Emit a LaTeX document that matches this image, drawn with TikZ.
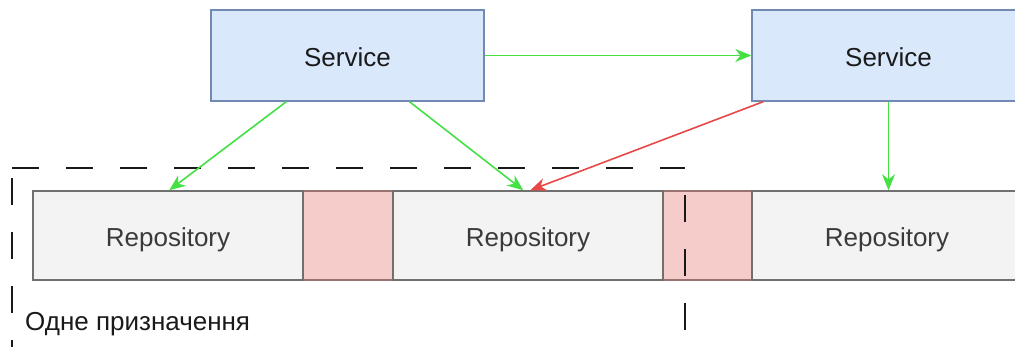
\documentclass[tikz,border=0pt]{standalone}
\usepackage{fontspec}
\setmainfont{Liberation Sans}
\usetikzlibrary{arrows.meta,calc}

\definecolor{svcfill}{HTML}{DAE8FC}
\definecolor{svcline}{HTML}{7189B3}
\definecolor{repofill}{HTML}{F3F3F3}
\definecolor{repoline}{HTML}{707070}
\definecolor{gapfill}{HTML}{F6CCCB}
\definecolor{gapline}{HTML}{9A7272}
\definecolor{okarrow}{HTML}{44E044}
\definecolor{badarrow}{HTML}{E84848}
\definecolor{svctext}{HTML}{1A1A1A}
\definecolor{repotext}{HTML}{3A3A3A}

\tikzset{
  label font/.style={font=\fontsize{26}{30}\selectfont},
  boxtext/.style={label font, text height=22.6pt, text depth=0pt},
  svc/.style={draw=svcline, fill=svcfill, line width=1.3pt, inner sep=0pt,
    minimum width=273pt, minimum height=91pt, boxtext, text=svctext},
  repo/.style={draw=repoline, fill=repofill, line width=1.5pt, inner sep=0pt,
    minimum width=270pt, minimum height=89pt, boxtext, text=repotext},
  gapbox/.style={draw=gapline, fill=gapfill, line width=1.5pt, inner sep=0pt,
    minimum width=90pt, minimum height=89pt},
  conn/.style={line width=1.6pt, -{Stealth[length=16pt,width=13pt,inset=5pt]}},
  ok/.style={conn, draw=okarrow, fill=okarrow},
  bad/.style={conn, draw=badarrow, fill=badarrow},
  grp/.style={line width=2pt, draw=black!90, dash pattern=on 27pt off 27pt},
}

\begin{document}
\begin{tikzpicture}[x=1pt,y=-1pt]
\path[use as bounding box, clip] (0,0) rectangle (1015,347);

% services
\node[svc] (s1) at (347.5,55.5) {Service};
\node[svc] (s2) at (888.5,55.5) {Service};

% repository row with the shared pieces between them
\node[gapbox] (g1) at (348,235.5) {};
\node[gapbox] (g2) at (707.5,235.5) {};
\node[repo] (r1) at (168,235.5) {Repository};
\node[repo] (r2) at (528,235.5) {Repository};
\node[repo] (r3) at (887,235.5) {Repository};

% dashed group around the first two repositories
\coordinate (gtl) at (12,168);
\coordinate (gtr) at (685,168);
\coordinate (gbl) at (12,360);
\coordinate (gbr) at (685,360);
\draw[grp] (gtl) -- (gtr);
\draw[grp, dash phase=27pt] (gtr) -- (gbr);
\draw[grp, dash phase=44pt] (gtl) -- (gbl);
\node[label font, anchor=base west, text=svctext, inner sep=0pt] (grplabel) at (25,331) {Одне призначення};

% dependencies
\draw[ok] (s1.east) -- (s2.west);
\draw[ok] ($(s1.south west)+(76,0)$) -- ($(r1.north west)+(137,0)$);
\draw[ok] ($(s1.south west)+(199,0)$) -- ($(r2.north west)+(131,0)$);
\draw[bad] ($(s2.south west)+(12,0)$) -- ($(r2.north west)+(138,0)$);
\draw[ok] (s2.south) -- (s2.south |- r3.north);
\end{tikzpicture}
\end{document}
